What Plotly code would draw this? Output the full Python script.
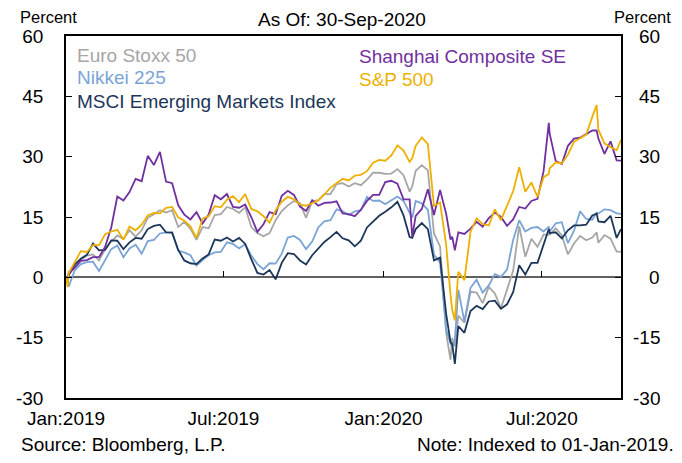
import plotly.graph_objects as go

# ---------------- data (percent change, indexed to 01-Jan-2019) ----------------
dates = [
    "2019-01-01", "2019-01-03", "2019-01-04", "2019-01-11", "2019-01-18", "2019-01-25",
    "2019-02-01", "2019-02-08", "2019-02-15", "2019-02-22",
    "2019-03-01", "2019-03-08", "2019-03-15", "2019-03-22", "2019-03-29",
    "2019-04-05", "2019-04-12", "2019-04-19", "2019-04-26",
    "2019-05-03", "2019-05-10", "2019-05-17", "2019-05-24", "2019-05-31",
    "2019-06-07", "2019-06-14", "2019-06-21", "2019-06-28",
    "2019-07-05", "2019-07-12", "2019-07-19", "2019-07-26",
    "2019-08-02", "2019-08-09", "2019-08-16", "2019-08-23", "2019-08-30",
    "2019-09-06", "2019-09-13", "2019-09-20", "2019-09-27",
    "2019-10-04", "2019-10-11", "2019-10-18", "2019-10-25",
    "2019-11-01", "2019-11-08", "2019-11-15", "2019-11-22", "2019-11-29",
    "2019-12-06", "2019-12-13", "2019-12-20", "2019-12-27",
    "2020-01-03", "2020-01-10", "2020-01-17", "2020-01-24", "2020-01-31",
    "2020-02-03", "2020-02-07", "2020-02-14", "2020-02-21", "2020-02-28",
    "2020-03-06", "2020-03-13", "2020-03-18", "2020-03-20", "2020-03-23", "2020-03-27",
    "2020-04-03", "2020-04-10", "2020-04-17", "2020-04-24",
    "2020-05-01", "2020-05-08", "2020-05-15", "2020-05-22", "2020-05-29",
    "2020-06-05", "2020-06-12", "2020-06-19", "2020-06-26",
    "2020-07-03", "2020-07-09", "2020-07-10", "2020-07-17", "2020-07-24", "2020-07-31",
    "2020-08-07", "2020-08-14", "2020-08-21", "2020-08-28",
    "2020-09-02", "2020-09-04", "2020-09-11", "2020-09-18", "2020-09-25", "2020-09-30",
]

euro_stoxx_50 = [
    0, -1.6, 1.3, 2.3, 4.4, 5.4,
    5.7, 4.2, 7.0, 8.9,
    10.4, 9.5, 11.7, 10.1, 11.7,
    14.8, 15.7, 16.7, 16.1,
    16.7, 12.5, 13.8, 12.1, 9.3,
    12.5, 12.2, 15.5, 15.7,
    17.5, 17.0, 16.0, 17.4,
    12.5, 11.0, 10.2, 11.0, 14.2,
    16.5, 17.9, 19.0, 18.4,
    14.8, 18.9, 19.2, 20.7,
    20.7, 23.2, 23.4, 22.6, 23.4,
    22.9, 24.3, 26.0, 26.0,
    25.7, 25.8, 26.9, 25.4, 21.3,
    22.6, 26.5, 27.9, 26.6, 10.9,
    7.7, -13.8, -20.5, -15.1, -17.2, -9.5,
    -11.3, -3.6, -3.8, -6.4,
    -2.4, -4.0, -7.7, -3.2, 1.6,
    12.7, 5.1, 9.6, 7.6,
    10.6, 10.6, 10.6, 12.2, 10.4, 5.7,
    8.4, 10.3, 9.2, 9.9,
    11.2, 8.6, 10.5, 9.6, 6.4, 6.4,
]

nikkei_225 = [
    0, -2.0, -2.3, 1.7, 3.3, 3.8,
    3.9, 1.6, 4.4, 7.0,
    7.9, 5.0, 7.2, 8.1, 5.9,
    9.0, 9.3, 10.9, 11.2,
    11.2, 6.6, 6.2, 5.5, 2.9,
    4.3, 5.5, 6.2, 6.3,
    8.7, 8.3, 7.2, 8.2,
    5.4, 3.3, 2.0, 3.5, 3.4,
    5.9, 9.9, 10.3, 9.3,
    7.0, 8.9, 12.4, 13.9,
    14.2, 16.9, 16.4, 15.5, 16.4,
    16.7, 20.0, 19.0, 19.1,
    18.2, 19.2, 20.1, 19.0, 15.9,
    14.8, 19.0, 18.4, 16.8, 5.6,
    3.7, -12.9, -16.4, -17.3, -15.6, -3.1,
    -11.0, -2.6, -0.6, -3.8,
    -2.0, 0.8, 0.1, 1.9, 9.3,
    14.2, 11.4, 12.3, 12.5,
    11.4, 12.6, 11.4, 13.4, 13.7, 8.5,
    11.6, 16.4, 14.5, 14.3,
    16.1, 15.9, 16.9, 16.7, 15.9, 15.8,
]

msci_em = [
    0, -1.1, 0.5, 3.2, 4.6, 5.6,
    8.4, 6.7, 6.8, 9.2,
    9.1, 7.0, 8.7, 9.8, 9.6,
    12.0, 12.8, 13.1, 11.2,
    11.1, 6.8, 4.2, 3.5, 3.3,
    4.7, 5.7, 9.4, 9.1,
    9.9, 8.9, 9.8, 8.3,
    4.5, 1.1, 0.7, 1.8, -0.5,
    3.6, 6.0, 5.8, 4.2,
    3.2, 5.5, 7.1, 8.8,
    10.0, 11.3, 9.7, 9.2, 7.7,
    9.1, 12.4, 13.9, 15.3,
    16.3, 17.4, 18.8, 15.4, 10.0,
    9.8, 12.0, 13.5, 12.0, 4.2,
    4.9, -9.1, -16.1, -16.6, -21.5, -12.1,
    -13.8, -8.4, -7.1, -7.9,
    -6.0, -5.8, -7.8, -6.7, -3.7,
    3.0, 0.7, 3.6, 3.6,
    7.9, 12.0, 11.0, 11.2, 9.7, 11.7,
    12.9, 12.9, 13.1, 15.4,
    15.8, 13.9, 13.7, 15.3, 9.8, 12.0,
]

shanghai_composite = [
    0, -1.2, 0.8, 2.4, 4.1, 4.3,
    5.0, 5.0, 7.6, 12.4,
    20.1, 19.1, 21.2, 24.5, 23.9,
    30.2, 27.9, 31.2, 23.8,
    23.4, 17.9, 15.6, 14.4, 16.2,
    13.4, 15.6, 20.4, 19.4,
    20.7, 17.5, 17.3, 18.1,
    15.0, 11.3, 13.2, 16.2, 15.7,
    20.3, 21.5, 20.5, 17.6,
    16.5, 19.2, 17.8, 18.5,
    18.6, 18.9, 15.9, 15.7, 15.2,
    16.8, 19.0, 20.5, 20.5,
    23.7, 24.0, 23.3, 19.4, 19.4,
    10.1, 15.3, 17.0, 21.9, 15.5,
    21.7, 15.8, 9.4, 10.1, 6.7, 11.2,
    10.8, 12.1, 13.8, 12.6,
    14.7, 16.1, 15.0, 12.8, 14.4,
    17.5, 17.1, 19.0, 19.5,
    26.4, 38.4, 35.7, 28.9, 28.2, 32.7,
    34.5, 34.7, 35.6, 36.5,
    36.5, 34.5, 30.7, 33.8, 29.1, 29.0,
]

sp_500 = [
    0, -2.4, 1.0, 3.6, 6.5, 6.3,
    8.0, 8.0, 10.7, 11.4,
    11.8, 9.4, 12.6, 11.7, 13.1,
    15.4, 16.0, 15.9, 17.3,
    17.5, 14.9, 14.1, 12.7, 9.8,
    14.6, 15.2, 17.7, 17.4,
    19.3, 20.2, 18.7, 20.7,
    17.0, 16.4, 15.2, 13.6, 16.7,
    18.8, 20.0, 19.4, 18.1,
    17.8, 18.5, 19.1, 20.6,
    22.3, 23.4, 24.5, 24.1, 25.3,
    25.5, 26.4, 28.5, 29.2,
    29.0, 30.3, 32.8, 31.5, 28.7,
    29.6, 32.7, 34.8, 33.1, 17.8,
    18.6, 8.1, -4.3, -8.1, -10.7, 1.4,
    -0.7, 11.3, 14.7, 13.2,
    12.9, 16.9, 14.2, 17.9, 21.4,
    27.4, 21.3, 23.6, 20.0,
    24.9, 25.7, 27.1, 28.6, 28.3, 30.5,
    33.7, 34.5, 35.5, 39.9,
    42.8, 36.7, 33.3, 32.4, 31.6, 34.2,
]

series_names = ["Euro Stoxx 50", "Nikkei 225", "MSCI Emerging Markets Index",
                "Shanghai Composite SE", "S&P 500"]
series_values = [euro_stoxx_50, nikkei_225, msci_em, shanghai_composite, sp_500]
series_colors = ["#a6a6a6", "#7ba4d6", "#1c365a", "#7030a0", "#eeb000"]

y_ticks = [60, 45, 30, 15, 0, -15, -30]
y_tick_labels = ["60", "45", "30", "15", "0", "-15", "-30"]
x_ticks = ["2019-01-01", "2019-07-01", "2020-01-01", "2020-07-01"]
x_tick_labels = ["Jan:2019", "Jul:2019", "Jan:2020", "Jul:2020"]
x_range = ["2019-01-01", "2020-09-30"]

# ---------------- figure ----------------
FONT = "Liberation Sans, Arial, sans-serif"
FS = 19

fig = go.Figure()
for i, (name, vals, col) in enumerate(zip(series_names, series_values, series_colors)):
    fig.add_trace(go.Scatter(
        x=dates, y=vals, mode="lines", name=name,
        line=dict(color=col, width=1.8),
        xaxis="x2" if i == len(series_names) - 1 else "x",
        yaxis="y", showlegend=False, hoverinfo="skip",
    ))

# the page body adds an 8px offset, so the figure is 8px smaller on each axis
fig.update_layout(
    width=674, height=455,
    margin=dict(l=58, r=61, t=28, b=65, autoexpand=False),
    paper_bgcolor="white", plot_bgcolor="white",
    font=dict(family=FONT, size=FS, color="black"),
    xaxis=dict(
        range=x_range, tickvals=x_ticks, ticktext=x_tick_labels,
        ticks="", showline=True, linecolor="black", linewidth=1.5, mirror=True,
        showgrid=False, zeroline=False, tickfont=dict(size=FS),
        ticklabelstandoff=2,
    ),
    xaxis2=dict(
        range=x_range, overlaying="x", anchor="free", position=1/3,
        tickvals=x_ticks[1:], ticks="inside", ticklen=6, tickwidth=1, tickcolor="black",
        showticklabels=False, showline=False, showgrid=False, zeroline=False,
    ),
    yaxis=dict(
        range=[-30, 60], tickvals=y_ticks, ticktext=y_tick_labels,
        ticks="inside", ticklen=6, tickwidth=1, tickcolor="black",
        showline=True, linecolor="black", linewidth=1.5, mirror="ticks",
        showgrid=False, zeroline=True, zerolinecolor="#606060", zerolinewidth=1.5,
        tickfont=dict(size=FS), ticklabelstandoff=17,
    ),
)

annotations = []
# right-side tick labels (right-aligned column)
for v, t in zip(y_ticks, y_tick_labels):
    annotations.append(dict(x=1.0739, y=v, xref="paper", yref="y", text=t,
                            showarrow=False, xanchor="right", yanchor="middle",
                            font=dict(size=FS)))
# headers and notes
annotations += [
    dict(x=-0.0324, y=1.0514, text="Percent", xanchor="center", font=dict(size=16.5)),
    dict(x=1.0396, y=1.0514, text="Percent", xanchor="center", font=dict(size=16.5)),
    dict(x=0.4973, y=1.046, text="As Of: 30-Sep-2020", xanchor="center"),
    dict(x=-0.0847, y=-0.1298, text="Source: Bloomberg, L.P.", xanchor="left"),
    dict(x=1.099, y=-0.1298, text="Note: Indexed to 01-Jan-2019.", xanchor="right"),
]
# legend labels as coloured text
legend_pos = [(0.0162, 0.9448), (0.0162, 0.884), (0.0162, 0.8177), (0.5243, 0.942), (0.5243, 0.8785)]
for name, col, (lx, ly) in zip(series_names, series_colors, legend_pos):
    annotations.append(dict(x=lx, y=ly, text=name, xanchor="left",
                            font=dict(size=FS, color=col)))
for a in annotations:
    a.setdefault("xref", "paper")
    a.setdefault("yref", "paper")
    a.setdefault("showarrow", False)
    a.setdefault("yanchor", "middle")
    a.setdefault("font", dict(size=FS))
fig.update_layout(annotations=annotations)

fig.write_html("out.html")
